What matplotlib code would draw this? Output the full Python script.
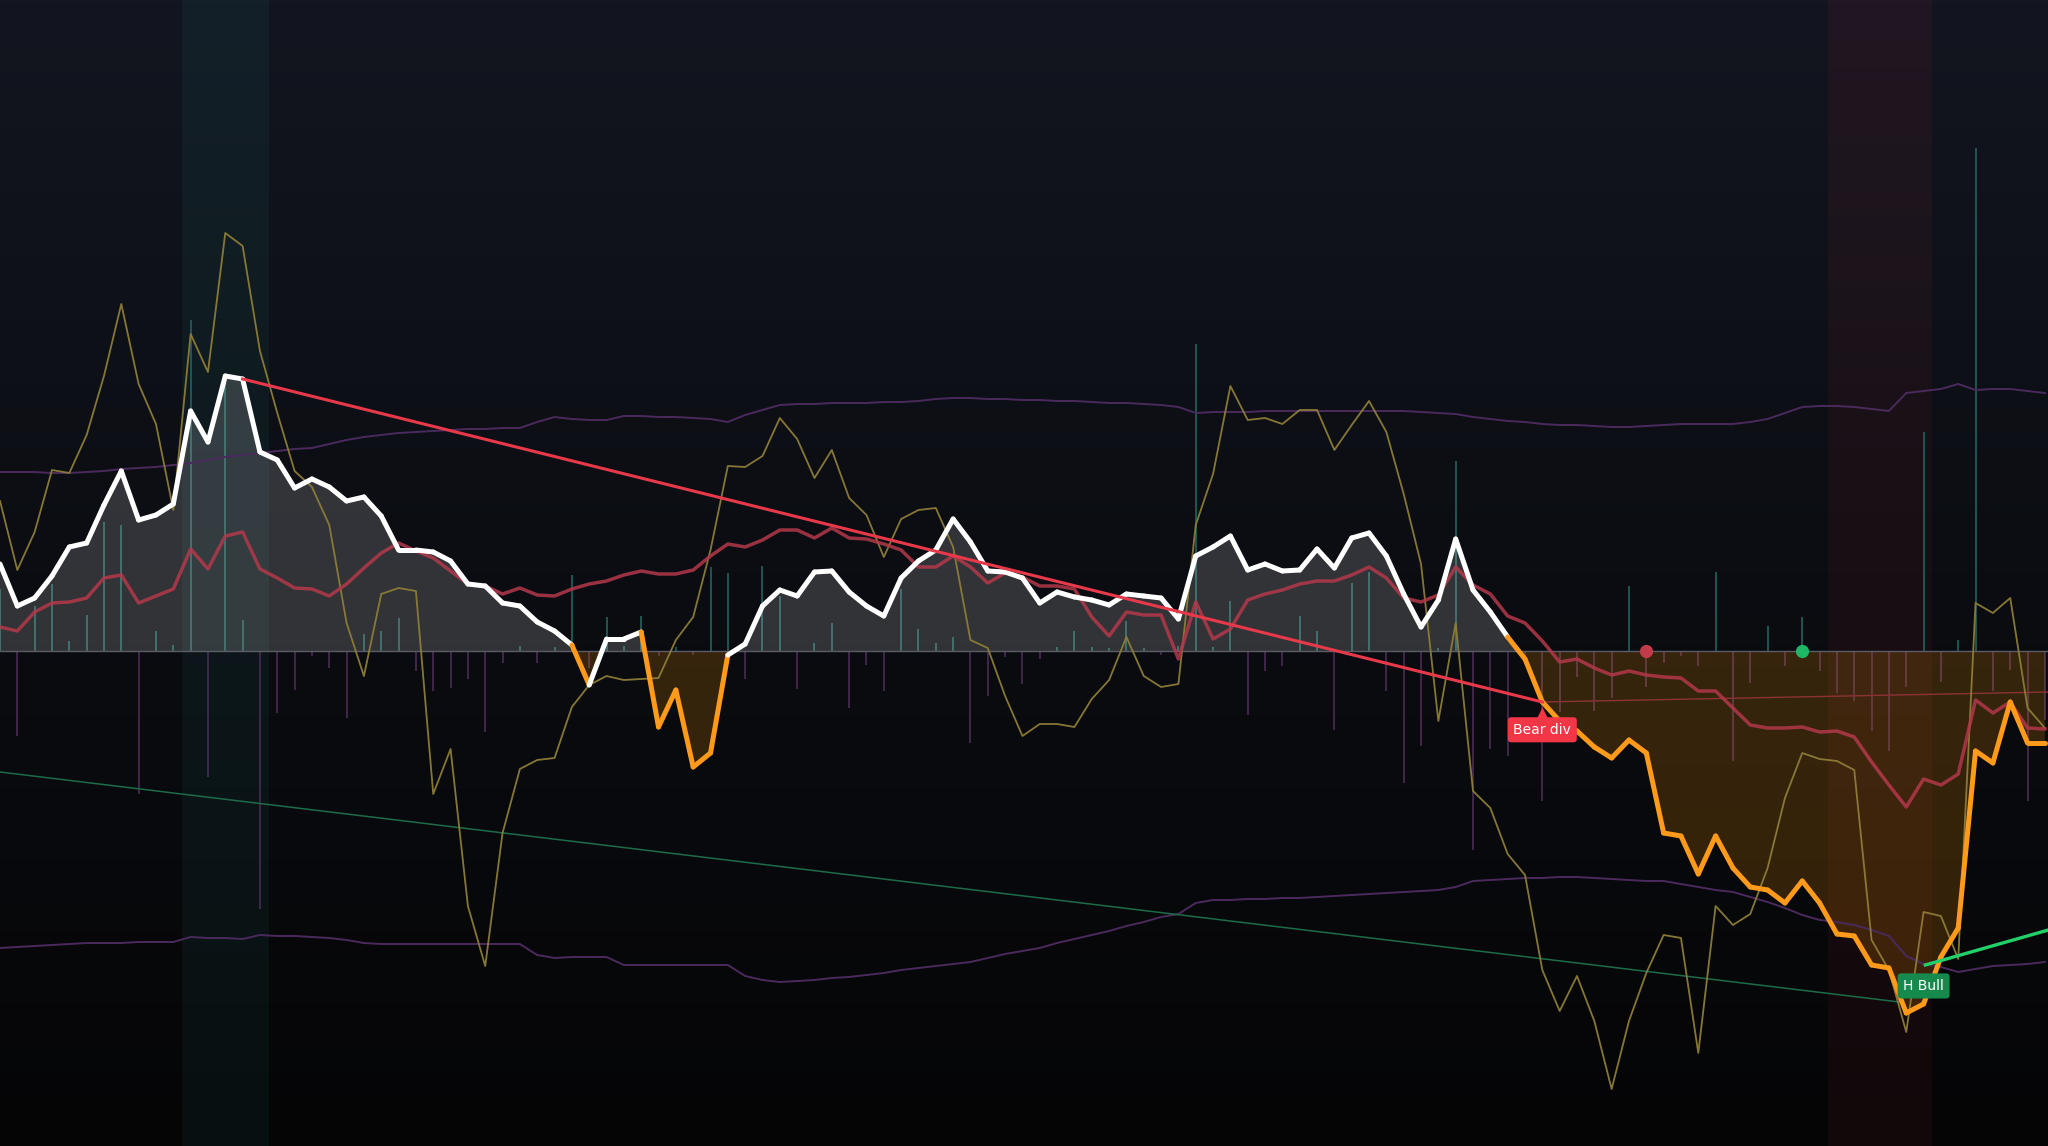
import numpy as np
import matplotlib
matplotlib.use("Agg")
import matplotlib.pyplot as plt
from matplotlib.collections import LineCollection
from matplotlib.colors import LinearSegmentedColormap
import matplotlib.transforms as mtransforms

# oscillator (white above zero, orange below)
main = [8.7, 4.5, 5.3, 7.5, 10.4, 10.8, 14.6, 18.0, 13.1, 13.6,
        14.7, 24.0, 20.9, 27.5, 27.2, 19.9, 19.1, 16.3, 17.2, 16.4,
        15.0, 15.4, 13.5, 10.1, 10.1, 9.9, 9.0, 6.7, 6.5, 4.8,
        4.5, 2.9, 2.0, 0.6, -3.4, 1.2, 1.2, 1.9, -7.6, -3.9,
        -11.6, -10.2, -0.4, 0.7, 4.5, 6.1, 5.5, 7.9, 8.0, 5.9,
        4.5, 3.5, 7.3, 9.0, 10.1, 13.2, 10.9, 8.0, 7.9, 7.3,
        4.8, 5.9, 5.4, 5.1, 4.6, 5.7, 5.5, 5.3, 3.2, 9.5,
        10.4, 11.5, 8.1, 8.7, 8.0, 8.1, 10.2, 8.3, 11.3, 11.8,
        9.5, 5.7, 2.4, 5.1, 11.2, 6.1, 3.9, 1.4, -0.8, -5.1,
        -7.0, -8.0, -9.6, -10.7, -8.9, -10.2, -18.2, -18.5, -22.3, -18.5,
        -21.7, -23.6, -23.9, -25.2, -23.0, -25.2, -28.3, -28.5, -31.4, -31.7,
        -36.2, -35.3, -30.6, -27.7, -10.0, -11.2, -5.1, -9.2, -9.2]

# signal line (red)
signal = [2.4, 2.0, 3.9, 4.8, 4.9, 5.3, 7.3, 7.6, 4.8, 5.5,
          6.2, 10.2, 8.2, 11.5, 11.9, 8.2, 7.3, 6.3, 6.2, 5.5,
          6.7, 8.3, 9.8, 10.8, 10.0, 9.3, 8.0, 6.7, 6.5, 5.7,
          6.3, 5.6, 5.5, 6.2, 6.7, 7.0, 7.6, 8.0, 7.7, 7.7,
          8.1, 9.5, 10.7, 10.4, 11.1, 12.1, 12.1, 11.3, 12.3, 11.3,
          11.2, 10.7, 10.1, 8.4, 8.4, 9.5, 8.4, 6.8, 7.8, 7.4,
          6.5, 6.5, 6.2, 3.4, 1.5, 3.9, 3.6, 3.6, -0.8, 4.9,
          1.2, 2.2, 5.1, 5.7, 6.1, 6.7, 7.0, 7.0, 7.6, 8.4,
          7.3, 5.3, 4.9, 5.6, 8.4, 6.6, 5.7, 3.5, 2.8, 1.0,
          -1.1, -0.8, -1.7, -2.4, -2.0, -2.4, -2.6, -2.7, -4.0, -4.0,
          -5.7, -7.4, -7.7, -7.7, -7.6, -8.1, -8.0, -8.6, -11.1, -13.4,
          -15.6, -12.8, -13.4, -12.3, -4.9, -6.2, -5.1, -7.7, -7.8]

# fast line (thin olive)
fast = [15.0, 8.1, 11.9, 18.1, 17.8, 21.6, 27.5, 34.7, 26.7, 22.7,
        14.1, 31.7, 27.9, 41.8, 40.5, 30.0, 23.8, 18.0, 16.4, 12.6,
        2.8, -2.5, 5.7, 6.3, 6.0, -14.3, -9.8, -25.5, -31.5, -18.2,
        -11.8, -10.9, -10.7, -5.6, -3.4, -2.5, -2.9, -2.8, -2.7, 1.1,
        3.4, 10.1, 18.5, 18.4, 19.5, 23.3, 21.2, 17.3, 20.1, 15.3,
        13.6, 9.4, 13.2, 14.1, 14.3, 10.4, 1.1, 0.3, -4.5, -8.5,
        -7.3, -7.3, -7.6, -4.8, -2.9, 1.4, -2.5, -3.6, -3.3, 12.6,
        17.7, 26.5, 23.1, 23.3, 22.7, 24.1, 24.1, 20.1, 22.6, 25.0,
        21.9, 15.7, 8.7, -7.0, 2.8, -14.0, -15.7, -20.3, -22.4, -31.9,
        -36.0, -32.5, -37.0, -43.8, -37.0, -32.2, -28.4, -28.7, -40.2, -25.5,
        -27.4, -26.3, -21.7, -14.7, -10.2, -10.8, -11.0, -11.9, -28.9, -31.9,
        -38.1, -26.1, -26.5, -30.8, 4.8, 3.8, 5.3, -5.7, -7.7]

upper_band = [17.9, 17.9, 17.9, 17.8, 17.8, 17.9, 18.0, 18.2, 18.3, 18.4,
              18.6, 18.8, 19.1, 19.4, 19.6, 19.8, 20.0, 20.2, 20.3, 20.7,
              21.1, 21.4, 21.6, 21.8, 21.9, 22.0, 22.1, 22.2, 22.2, 22.3,
              22.3, 22.9, 23.4, 23.2, 23.1, 23.1, 23.5, 23.5, 23.4, 23.4,
              23.3, 23.2, 22.9, 23.6, 24.1, 24.6, 24.7, 24.7, 24.8, 24.8,
              24.8, 24.9, 24.9, 25.0, 25.2, 25.3, 25.3, 25.2, 25.2, 25.1,
              25.1, 25.0, 25.0, 24.9, 24.8, 24.8, 24.7, 24.6, 24.4, 23.8,
              23.9, 23.9, 23.9, 24.0, 24.0, 24.0, 24.0, 24.0, 24.0, 24.0,
              24.0, 24.0, 23.9, 23.8, 23.7, 23.4, 23.2, 23.0, 22.9, 22.7,
              22.6, 22.6, 22.5, 22.4, 22.4, 22.5, 22.6, 22.7, 22.7, 22.7,
              22.7, 22.9, 23.2, 23.8, 24.4, 24.5, 24.5, 24.4, 24.2, 24.0,
              25.8, 26.0, 26.2, 26.7, 26.1, 26.2, 26.2, 26.0, 25.8]

lower_band = [-29.7, -29.6, -29.5, -29.4, -29.3, -29.2, -29.2, -29.2, -29.1, -29.1,
              -29.1, -28.6, -28.7, -28.7, -28.8, -28.4, -28.5, -28.5, -28.6, -28.7,
              -28.9, -29.2, -29.3, -29.3, -29.3, -29.3, -29.3, -29.3, -29.3, -29.3,
              -29.3, -30.4, -30.7, -30.6, -30.6, -30.6, -31.4, -31.4, -31.4, -31.4,
              -31.4, -31.4, -31.4, -32.5, -32.9, -33.1, -33.0, -32.9, -32.7, -32.6,
              -32.4, -32.2, -31.9, -31.7, -31.5, -31.3, -31.1, -30.7, -30.3, -30.0,
              -29.7, -29.2, -28.8, -28.4, -28.0, -27.5, -27.1, -26.6, -26.3, -25.2,
              -24.9, -24.9, -24.8, -24.8, -24.7, -24.7, -24.6, -24.5, -24.4, -24.3,
              -24.2, -24.1, -24.0, -23.9, -23.6, -23.0, -22.9, -22.8, -22.7, -22.7,
              -22.6, -22.6, -22.7, -22.8, -22.9, -23.0, -23.0, -23.3, -23.6, -23.9,
              -24.1, -24.6, -25.1, -25.7, -26.4, -26.9, -27.1, -27.4, -27.9, -28.5,
              -30.5, -31.3, -31.6, -32.1, -31.8, -31.5, -31.4, -31.3, -31.1]

hist = [6.2, -8.5, 4.5, 6.7, 1.0, 3.6, 12.9, 12.6, -14.3, 2.0,
        0.6, 33.1, -12.6, 27.0, 3.1, -25.8, -6.2, -3.9, -0.5, -1.7,
        -6.7, 1.7, 2.0, 3.3, -2.0, -4.0, -3.7, -2.8, -8.1, -1.2,
        0.5, -1.2, 0.4, 7.6, -1.7, 3.4, 0.5, 3.5, -0.5, 0.4,
        -0.4, 8.4, 7.8, -2.8, 8.5, 5.5, -3.8, 0.8, 2.8, -5.7,
        -1.4, -4.0, 6.2, 2.2, 0.8, 1.4, -9.2, -4.5, -0.6, -3.3,
        -0.8, 0.4, 2.0, 0.4, 0.3, 3.0, 0.3, -0.4, 0.5, 30.7,
        0.4, 5.0, -6.4, -2.0, -1.5, 3.5, 2.0, -7.9, 6.8, 7.9,
        -4.0, -13.2, -9.5, 0.3, 19.0, -19.9, -9.8, -10.5, -0.5, -15.0,
        -6.1, -2.6, -6.0, -4.7, 6.5, -3.6, -1.2, -0.5, -1.5, 7.9,
        -11.0, -3.2, 2.5, -1.5, 3.4, -2.0, -4.2, -5.0, -8.0, -10.0,
        -3.6, 21.9, -3.1, 1.1, 50.3, -4.0, -1.9, -15.0, -6.9]

bull_zone = (10.5, 15.5)
bear_zone = (105.5, 111.5)
bear_div = (14, 89)
bear_ref_end = -4.1
bull_trend_x = [0.0, 109.6]
bull_trend_y = [-12.1, -35.1]
hbull_x = [111.1, 118.2]
hbull_y = [-31.4, -27.9]
hbull_bar = 111
dot_red_bar = 95
dot_green_bar = 104

x = np.arange(len(main))
main = np.array(main)
x_max = 118.18
y_lo, y_hi = -49.5, 65.1

fig = plt.figure(figsize=(20.48, 11.46), dpi=100)
ax = fig.add_axes([0, 0, 1, 1])
ax.set_xlim(0, x_max)
ax.set_ylim(y_lo, y_hi)
ax.axis('off')

# background gradient
bg = LinearSegmentedColormap.from_list('bg', ['#131620', '#0b0d12', '#050506'])
ax.imshow(np.linspace(0, 1, 256).reshape(-1, 1), extent=[0, x_max, y_lo, y_hi],
          aspect='auto', cmap=bg, origin='upper', zorder=0)

ax.axvspan(*bull_zone, color='#26a69a', alpha=0.075, lw=0, zorder=1)
ax.axvspan(*bear_zone, color='#f23645', alpha=0.06, lw=0, zorder=1)

# histogram
hcol = ['#215c57' if h > 0 else '#45294f' for h in hist]
ax.vlines(x, 0, hist, colors=hcol, lw=1.3, zorder=2)

# fills
ax.fill_between(x, main, 0, where=main >= 0, interpolate=True,
                color='white', alpha=0.16, lw=0, zorder=3)
ax.fill_between(x, main, 0, where=main < 0, interpolate=True,
                color='#ff9800', alpha=0.18, lw=0, zorder=3)

ax.axhline(0, color='#5a5d66', lw=1.0, zorder=3.5)

# bands
ax.plot(x, upper_band, color='#4a2a5c', lw=1.4, zorder=4)
ax.plot(x, lower_band, color='#4a2a5c', lw=1.4, zorder=4)

ax.plot(bull_trend_x, bull_trend_y, color='#1d6b48', lw=1.1, zorder=4)

ax.plot(x, fast, color='#8e7d38', lw=1.3, alpha=0.95, zorder=5)
ax.plot(x, signal, color='#b3384a', lw=2.5, alpha=0.85, zorder=6)

# main line coloured by sign of the bar it ends on
pts = np.column_stack([x, main])
segs = np.stack([pts[:-1], pts[1:]], axis=1)
cols = ['white' if v >= 0 else '#ff9a1a' for v in main[1:]]
lc = LineCollection(segs, colors=cols, linewidths=3.6, capstyle='round',
                    joinstyle='round', zorder=7)
ax.add_collection(lc)

# divergence lines
b0, b1 = bear_div
ax.plot([b0, b1], [main[b0], main[b1]], color='#e8394a', lw=2.2, zorder=8)
ax.plot([b1, x_max], [main[b1], bear_ref_end], color='#8c3236', lw=1.0, zorder=4)
ax.plot(hbull_x, hbull_y, color='#22d06a', lw=2.4, zorder=8)

# dots on zero line
ax.plot(dot_red_bar, 0, 'o', ms=9.5, color='#c23b4b', mec='none', zorder=9)
ax.plot(dot_green_bar, 0, 'o', ms=9.5, color='#1db866', mec='none', zorder=9)

# labels
ax.annotate('Bear div', xy=(b1, main[b1]), xytext=(0, -20), textcoords='offset points',
            ha='center', va='center', color='white', fontsize=10, zorder=10,
            bbox=dict(boxstyle='round,pad=0.4,rounding_size=0.25', fc='#f23645', ec='none'))
tri = mtransforms.offset_copy(ax.transData, fig=fig, x=0, y=-8, units='points')
ax.plot(b1, main[b1], marker='^', ms=8, color='#f23645', mec='none',
        transform=tri, zorder=10)

ax.annotate('H Bull', xy=(hbull_bar, main[hbull_bar]), xytext=(0, 13), textcoords='offset points',
            ha='center', va='center', color='white', fontsize=10, zorder=10,
            bbox=dict(boxstyle='round,pad=0.4,rounding_size=0.25', fc='#168a4c', ec='none'))

fig.savefig('out.png', dpi=100, facecolor='#0a0b0f')
